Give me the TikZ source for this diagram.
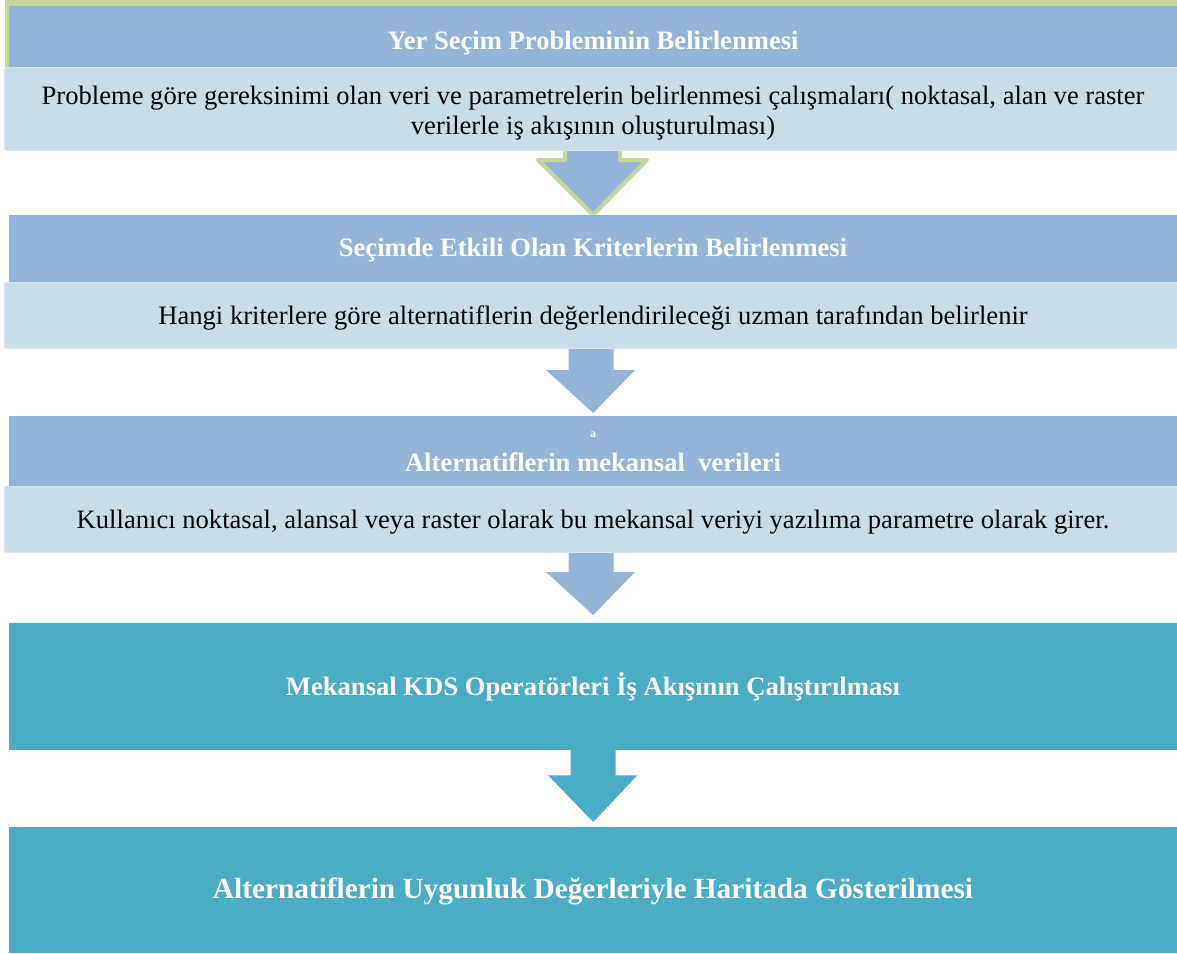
\documentclass[tikz,border=0pt]{standalone}
\usepackage{fontspec}
\setmainfont{Liberation Serif}
\newfontfamily\bodyfont{Liberation Serif}
\usetikzlibrary{calc}
\definecolor{hdrblue}{HTML}{95B3D7}
\definecolor{bodyblue}{HTML}{C9DDE8}
\definecolor{bodyedge}{HTML}{D8E5EE}
\definecolor{tealc}{HTML}{4BACC6}
\definecolor{greenc}{HTML}{C3D69B}
\tikzset{
  hdrbox/.style={fill=hdrblue, draw=none, inner sep=0pt, anchor=north west},
  bodybox/.style={fill=bodyblue, draw=bodyedge, line width=1pt, rounded corners=2pt, inner sep=0pt, anchor=north west},
  tealbox/.style={fill=tealc, draw=none, inner sep=0pt, anchor=north west},
  hdrtext/.style={text=white, font=\bodyfont\fontsize{26.6}{30}\selectfont\bfseries, inner sep=0pt},
  bodytext/.style={text=black, font=\bodyfont\fontsize{26.6}{29.5}\selectfont, inner sep=0pt, align=center},
  blockarrow/.style={fill=hdrblue, draw=none},
  greenarrow/.style={fill=hdrblue, draw=greenc, line width=4pt, line join=round},
  tealarrow/.style={fill=tealc, draw=none},
}
\begin{document}
\begin{tikzpicture}[x=1pt,y=-1pt]
\useasboundingbox (0,0) rectangle (1177,953);
% box 1
\fill[greenc] (5,0) rectangle (1177,67);
\node[hdrbox, minimum width=1168pt, minimum height=61pt] (h1) at (9,6) {};
% arrow 1 (drawn beneath body 1)
\coordinate (a1top) at (593,143);
\coordinate (a1tip) at (593,215);
\draw[greenarrow] ($(a1top)+(-28,0)$) -- ($(a1top)+(-28,17)$) -- ($(a1top)+(-55,17)$) -- (a1tip) -- ($(a1top)+(54,17)$) -- ($(a1top)+(27,17)$) -- ($(a1top)+(27,0)$);
\fill[hdrblue] ($(a1top)+(-26,0)$) rectangle ($(a1top)+(25,19)$);
\node[bodybox, minimum width=1173pt, minimum height=83pt] (b1) at (4,67) {};
\node[hdrtext] (t1) at (593,43) {Yer Seçim Probleminin Belirlenmesi};
\node[bodytext] (s1) at (593,113) {Probleme göre gereksinimi olan veri ve parametrelerin belirlenmesi çalışmaları( noktasal, alan ve raster\\verilerle iş akışının oluşturulması)};
% box 2
\node[hdrbox, minimum width=1168pt, minimum height=67pt] (h2) at (9,215) {};
\node[bodybox, minimum width=1173pt, minimum height=66pt] (b2) at (4,282) {};
\node[hdrtext] (t2) at (593,250) {Seçimde Etkili Olan Kriterlerin Belirlenmesi};
\node[bodytext] (s2) at (593,318) {Hangi kriterlere göre alternatiflerin değerlendirileceği uzman tarafından belirlenir};
% box 3
\node[hdrbox, minimum width=1168pt, minimum height=70pt] (h3) at (9,416) {};
\node[bodybox, minimum width=1173pt, minimum height=66pt] (b3) at (4,486) {};
\node[text=white, font=\bodyfont\fontsize{12}{13}\selectfont\bfseries, inner sep=0pt] (ta) at (593,435) {a};
\node[hdrtext] (t3) at (593,462) {Alternatiflerin mekansal\ \ verileri};
\node[bodytext] (s3) at (593,522) {Kullanıcı noktasal, alansal veya raster olarak bu mekansal veriyi yazılıma parametre olarak girer.};
% arrow 2
\draw[blockarrow] ($(b2.south)+(-22.5,0)$) -- ($(b2.south)+(-22.5,21)$) -- ($(b2.south)+(-45,21)$) -- ($(h3.north)+(0,-3)$) -- ($(b2.south)+(44,21)$) -- ($(b2.south)+(22.5,21)$) -- ($(b2.south)+(22.5,0)$) -- cycle;
% teal box 1
\node[tealbox, minimum width=1168pt, minimum height=127pt] (c1) at (9,623) {};
\node[hdrtext] (t4) at (593,687) {Mekansal KDS Operatörleri İş Akışının Çalıştırılması};
% arrow 3
\draw[blockarrow] ($(b3.south)+(-22.5,0)$) -- ($(b3.south)+(-22.5,19)$) -- ($(b3.south)+(-45,19)$) -- ($(c1.north)+(0,-8)$) -- ($(b3.south)+(44,19)$) -- ($(b3.south)+(22.5,19)$) -- ($(b3.south)+(22.5,0)$) -- cycle;
% teal box 2
\node[tealbox, minimum width=1168pt, minimum height=126pt] (c2) at (9,827) {};
\node[hdrtext, font=\bodyfont\fontsize{29.3}{33}\selectfont\bfseries] (t5) at (593,891) {Alternatiflerin Uygunluk Değerleriyle Haritada Gösterilmesi};
% arrow 4
\draw[tealarrow] ($(c1.south)+(-22.5,-1)$) -- ($(c1.south)+(-22.5,25)$) -- ($(c1.south)+(-45,25)$) -- ($(c2.north)+(0,-5)$) -- ($(c1.south)+(44,25)$) -- ($(c1.south)+(22.5,25)$) -- ($(c1.south)+(22.5,-1)$) -- cycle;
\end{tikzpicture}
\end{document}
